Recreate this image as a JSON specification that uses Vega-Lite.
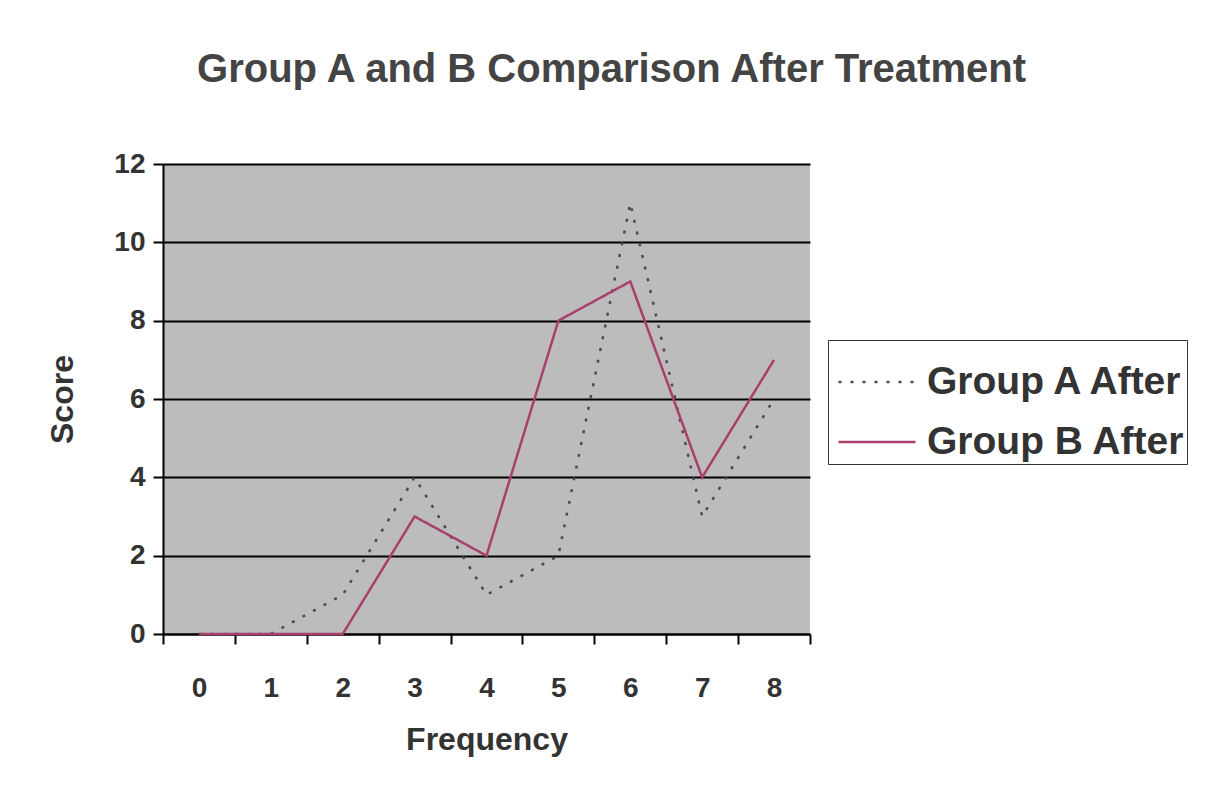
{
  "$schema": "https://vega.github.io/schema/vega-lite/v6.json",
  "width": 647,
  "height": 470,
  "autosize": {"type": "none"},
  "padding": {"left": 163, "top": 164, "right": 406, "bottom": 162},
  "background": "white",
  "title": {
    "text": "Group A and B Comparison After Treatment",
    "font": "Liberation Sans",
    "fontSize": 40,
    "fontWeight": "bold",
    "color": "#444444",
    "anchor": "middle",
    "dx": 125,
    "offset": 60
  },
  "data": {
    "values": [
      {"freq": 0, "series": "Group A After", "score": 0},
      {"freq": 1, "series": "Group A After", "score": 0},
      {"freq": 2, "series": "Group A After", "score": 1},
      {"freq": 3, "series": "Group A After", "score": 4},
      {"freq": 4, "series": "Group A After", "score": 1},
      {"freq": 5, "series": "Group A After", "score": 2},
      {"freq": 6, "series": "Group A After", "score": 11},
      {"freq": 7, "series": "Group A After", "score": 3},
      {"freq": 8, "series": "Group A After", "score": 6},
      {"freq": 0, "series": "Group B After", "score": 0},
      {"freq": 1, "series": "Group B After", "score": 0},
      {"freq": 2, "series": "Group B After", "score": 0},
      {"freq": 3, "series": "Group B After", "score": 3},
      {"freq": 4, "series": "Group B After", "score": 2},
      {"freq": 5, "series": "Group B After", "score": 8},
      {"freq": 6, "series": "Group B After", "score": 9},
      {"freq": 7, "series": "Group B After", "score": 4},
      {"freq": 8, "series": "Group B After", "score": 7}
    ]
  },
  "mark": {"type": "line", "strokeWidth": 2.5},
  "encoding": {
    "x": {
      "field": "freq",
      "type": "ordinal",
      "scale": {"type": "band", "paddingInner": 0, "paddingOuter": 0},
      "axis": {
        "title": "Frequency",
        "labelAngle": 0,
        "tickBand": "extent",
        "domainColor": "black",
        "domainWidth": 2,
        "tickColor": "black",
        "tickWidth": 2,
        "tickSize": 10,
        "labelPadding": 30,
        "labelFont": "Liberation Sans",
        "labelFontSize": 28,
        "labelFontWeight": "bold",
        "labelColor": "#333333",
        "titleFont": "Liberation Sans",
        "titleFontSize": 32,
        "titleFontWeight": "bold",
        "titleColor": "#333333",
        "titlePadding": 22
      }
    },
    "y": {
      "field": "score",
      "type": "quantitative",
      "scale": {"domain": [0, 12], "nice": false},
      "axis": {
        "title": "Score",
        "values": [0, 2, 4, 6, 8, 10, 12],
        "grid": true,
        "gridColor": "black",
        "gridWidth": 2,
        "gridOpacity": 1,
        "domainColor": "black",
        "domainWidth": 2,
        "tickColor": "black",
        "tickWidth": 2,
        "tickSize": 10,
        "labelPadding": 8,
        "labelFont": "Liberation Sans",
        "labelFontSize": 28,
        "labelFontWeight": "bold",
        "labelColor": "#333333",
        "titleFont": "Liberation Sans",
        "titleFontSize": 32,
        "titleFontWeight": "bold",
        "titleColor": "#333333",
        "titlePadding": 34
      }
    },
    "color": {
      "field": "series",
      "type": "nominal",
      "scale": {"domain": ["Group A After", "Group B After"], "range": ["#4a4a55", "#a8406e"]},
      "legend": {
        "title": null,
        "orient": "none",
        "legendX": 665,
        "legendY": 176,
        "strokeColor": "#333333",
        "padding": 2,
        "symbolType": "stroke",
        "symbolSize": 5929,
        "symbolStrokeWidth": 2.5,
        "symbolOffset": 7,
        "labelFont": "Liberation Sans",
        "labelFontSize": 39,
        "labelFontWeight": "bold",
        "labelColor": "#333333",
        "labelLimit": 400,
        "rowPadding": -17,
        "labelOffset": 10
      }
    },
    "strokeDash": {
      "field": "series",
      "type": "nominal",
      "scale": {"domain": ["Group A After", "Group B After"], "range": [[3, 9], [1, 0]]},
      "legend": null
    }
  },
  "config": {
    "view": {"fill": "#bcbcbc", "stroke": null}
  }
}
